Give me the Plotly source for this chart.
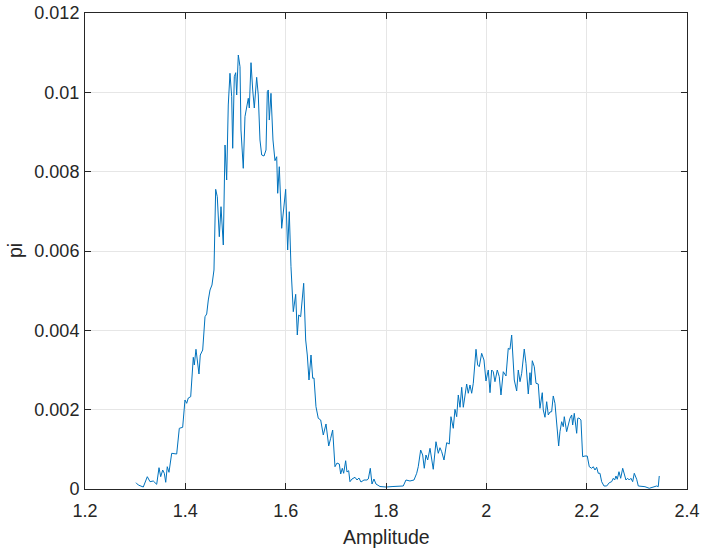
import plotly.graph_objects as go

amplitude = [
    1.3017, 1.3062, 1.3162, 1.3242, 1.3296, 1.3361, 1.3429, 1.3475, 1.3509, 1.3549,
    1.3581, 1.3609, 1.3640, 1.3674, 1.3728, 1.3800, 1.3828, 1.3880, 1.3947, 1.3993,
    1.4027, 1.4059, 1.4107, 1.4159, 1.4179, 1.4212, 1.4246, 1.4272, 1.4298, 1.4346,
    1.4392, 1.4426, 1.4458, 1.4492, 1.4531, 1.4571, 1.4605, 1.4637, 1.4677, 1.4711,
    1.4757, 1.4791, 1.4824, 1.4856, 1.4890, 1.4924, 1.4944, 1.4976, 1.5004, 1.5024,
    1.5056, 1.5090, 1.5109, 1.5129, 1.5155, 1.5189, 1.5223, 1.5255, 1.5275, 1.5309,
    1.5343, 1.5375, 1.5422, 1.5454, 1.5488, 1.5522, 1.5568, 1.5608, 1.5634, 1.5654,
    1.5674, 1.5707, 1.5747, 1.5787, 1.5821, 1.5841, 1.5873, 1.5921, 1.6000, 1.6040,
    1.6072, 1.6106, 1.6152, 1.6200, 1.6232, 1.6260, 1.6299, 1.6359, 1.6399, 1.6431,
    1.6465, 1.6505, 1.6539, 1.6565, 1.6604, 1.6650, 1.6698, 1.6750, 1.6804, 1.6858,
    1.6897, 1.6937, 1.6983, 1.7023, 1.7069, 1.7097, 1.7129, 1.7156, 1.7196, 1.7222,
    1.7256, 1.7282, 1.7322, 1.7382, 1.7422, 1.7461, 1.7501, 1.7561, 1.7621, 1.7647,
    1.7687, 1.7721, 1.7760, 1.7800, 1.7880, 1.8000, 1.8139, 1.8344, 1.8398, 1.8478,
    1.8558, 1.8612, 1.8643, 1.8691, 1.8731, 1.8763, 1.8797, 1.8831, 1.8877, 1.8911,
    1.8942, 1.8996, 1.9042, 1.9076, 1.9110, 1.9156, 1.9210, 1.9261, 1.9295, 1.9341,
    1.9375, 1.9409, 1.9441, 1.9475, 1.9509, 1.9541, 1.9574, 1.9608, 1.9640, 1.9674,
    1.9708, 1.9740, 1.9794, 1.9827, 1.9859, 1.9907, 1.9953, 1.9993, 2.0039, 2.0073,
    2.0106, 2.0138, 2.0172, 2.0218, 2.0258, 2.0292, 2.0338, 2.0392, 2.0437, 2.0471,
    2.0505, 2.0557, 2.0605, 2.0637, 2.0671, 2.0705, 2.0756, 2.0790, 2.0836, 2.0870,
    2.0890, 2.0916, 2.0956, 2.0990, 2.1035, 2.1069, 2.1115, 2.1135, 2.1169, 2.1203,
    2.1235, 2.1269, 2.1302, 2.1334, 2.1368, 2.1402, 2.1442, 2.1468, 2.1502, 2.1534,
    2.1554, 2.1601, 2.1633, 2.1667, 2.1701, 2.1721, 2.1753, 2.1781, 2.1801, 2.1821,
    2.1847, 2.1886, 2.1920, 2.1966, 2.2012, 2.2052, 2.2100, 2.2132, 2.2166, 2.2199,
    2.2231, 2.2265, 2.2299, 2.2345, 2.2399, 2.2451, 2.2498, 2.2530, 2.2558, 2.2584,
    2.2610, 2.2644, 2.2678, 2.2718, 2.2750, 2.2783, 2.2817, 2.2849, 2.2883, 2.2917,
    2.2949, 2.2997, 2.3029, 2.3162, 2.3248, 2.3361, 2.3395, 2.3427, 2.3447,
]

pi_values = [
    0.000159, 0.000101, 0.000050, 0.000310, 0.000184, 0.000202, 0.000118, 0.000537, 0.000310, 0.000479,
    0.000396, 0.000169, 0.000562, 0.000421, 0.000900, 0.000875, 0.000882, 0.001530, 0.001555, 0.002244,
    0.002160, 0.002294, 0.002327, 0.003320, 0.003126, 0.003522, 0.003083, 0.002899, 0.003378, 0.003504,
    0.004344, 0.004412, 0.004765, 0.005017, 0.005143, 0.005521, 0.007555, 0.007369, 0.006360, 0.007117,
    0.006151, 0.008672, 0.007790, 0.009681, 0.010480, 0.009890, 0.008589, 0.010394, 0.010495, 0.009933,
    0.010941, 0.010646, 0.009050, 0.008546, 0.008085, 0.009386, 0.009638, 0.009850, 0.009605, 0.010747,
    0.010059, 0.009605, 0.010379, 0.009933, 0.008798, 0.008420, 0.008395, 0.008546, 0.010016, 0.010059,
    0.009302, 0.009975, 0.008798, 0.008277, 0.008377, 0.007455, 0.008125, 0.006572, 0.007555, 0.006025,
    0.006991, 0.005604, 0.004470, 0.004908, 0.003882, 0.004387, 0.004344, 0.005186, 0.003756, 0.003378,
    0.002748, 0.003378, 0.002791, 0.002798, 0.002075, 0.001782, 0.001740, 0.001361, 0.001639, 0.001084,
    0.001278, 0.001487, 0.000562, 0.000655, 0.000630, 0.000378, 0.000522, 0.000396, 0.000713, 0.000429,
    0.000461, 0.000184, 0.000252, 0.000295, 0.000227, 0.000277, 0.000176, 0.000227, 0.000227, 0.000252,
    0.000522, 0.000126, 0.000252, 0.000126, 0.000063, 0.000050, 0.000063, 0.000076, 0.000227, 0.000202,
    0.000227, 0.000396, 0.000562, 0.000983, 0.000857, 0.000522, 0.000857, 0.000731, 0.001026, 0.000731,
    0.000497, 0.001192, 0.000900, 0.001041, 0.000940, 0.000731, 0.001167, 0.001134, 0.001823, 0.001530,
    0.002009, 0.001823, 0.002370, 0.002060, 0.002564, 0.002060, 0.002370, 0.002647, 0.002413, 0.002622,
    0.002413, 0.002665, 0.003522, 0.003126, 0.003083, 0.003421, 0.003252, 0.002723, 0.003000, 0.002428,
    0.003000, 0.002957, 0.002705, 0.003000, 0.002831, 0.002370, 0.002957, 0.002849, 0.003547, 0.003522,
    0.003882, 0.002748, 0.002471, 0.003000, 0.002705, 0.002917, 0.003529, 0.003169, 0.002395, 0.002932,
    0.002622, 0.003234, 0.003083, 0.002665, 0.002647, 0.002034, 0.002428, 0.001992, 0.001808, 0.002201,
    0.001866, 0.001941, 0.001949, 0.002345, 0.002160, 0.001571, 0.001084, 0.001445, 0.001697, 0.001571,
    0.001823, 0.001445, 0.001656, 0.001782, 0.001866, 0.001613, 0.001908, 0.001656, 0.001404, 0.001782,
    0.001790, 0.001740, 0.000814, 0.000832, 0.000832, 0.000562, 0.000522, 0.000562, 0.000479, 0.000547,
    0.000396, 0.000396, 0.000184, 0.000076, 0.000076, 0.000159, 0.000184, 0.000270, 0.000227, 0.000328,
    0.000245, 0.000436, 0.000270, 0.000522, 0.000353, 0.000227, 0.000270, 0.000227, 0.000270, 0.000184,
    0.000396, 0.000245, 0.000076, 0.000058, 0.000018, 0.000058, 0.000076, 0.000058, 0.000328,
]

x_ticks = [1.2, 1.4, 1.6, 1.8, 2.0, 2.2, 2.4]
x_tick_labels = ["1.2", "1.4", "1.6", "1.8", "2", "2.2", "2.4"]
y_ticks = [0, 0.002, 0.004, 0.006, 0.008, 0.01, 0.012]
y_tick_labels = ["0", "0.002", "0.004", "0.006", "0.008", "0.01", "0.012"]
x_title = "Amplitude"
y_title = "pi"

FONT = "Liberation Sans, Arial, sans-serif"
TEXT = "#262626"

fig = go.Figure()
fig.add_trace(go.Scatter(
    x=amplitude, y=pi_values, mode="lines",
    line=dict(color="#0072BD", width=1),
    showlegend=False,
))

axis_common = dict(
    showline=True, mirror="ticks", linecolor=TEXT, linewidth=1,
    ticks="inside", ticklen=6, tickcolor=TEXT, tickwidth=1,
    showgrid=True, gridcolor="#e6e6e6", gridwidth=1, zeroline=False,
    automargin=False,
    tickfont=dict(family=FONT, size=18, color=TEXT),
)

fig.update_layout(
    width=703, height=550,
    margin=dict(l=85, r=16, t=13, b=61),
    paper_bgcolor="white", plot_bgcolor="white",
    font=dict(family=FONT, color=TEXT),
    xaxis=dict(range=[1.2, 2.4], tickvals=x_ticks, ticktext=x_tick_labels,
               ticklabelstandoff=5, **axis_common),
    yaxis=dict(range=[0, 0.012], tickvals=y_ticks, ticktext=y_tick_labels,
               ticklabelstandoff=1, **axis_common),
    annotations=[
        dict(text=x_title, xref="paper", yref="paper", x=0.5, y=0,
             xanchor="center", yanchor="middle", yshift=-48, showarrow=False,
             font=dict(family=FONT, size=19.5, color=TEXT)),
        dict(text=y_title, xref="paper", yref="paper", x=0, y=0.5,
             xanchor="center", yanchor="middle", xshift=-70, textangle=-90,
             showarrow=False, font=dict(family=FONT, size=19.5, color=TEXT)),
    ],
)

fig.write_html("out.html")
